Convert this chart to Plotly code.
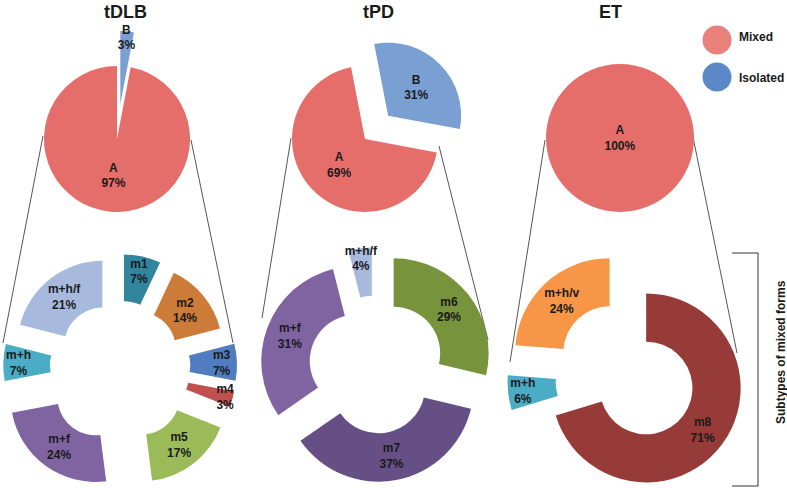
import math
import plotly.graph_objects as go

W, H = 787, 488

# top pies: mixed (A) vs isolated (B) forms
tdlb_top_labels = ["B", "A"]
tdlb_top_values = [3, 97]
tpd_top_labels = ["B", "A"]
tpd_top_values = [31, 69]
et_top_labels = ["A"]
et_top_values = [100]

# subtypes of mixed forms
tdlb_sub_labels = ["m1", "m2", "m3", "m4", "m5", "m+f", "m+h", "m+h/f"]
tdlb_sub_values = [7, 14, 7, 3, 17, 24, 7, 21]
tpd_sub_labels = ["m6", "m7", "m+f", "m+h/f"]
tpd_sub_values = [29, 37, 31, 4]
et_sub_labels = ["m8", "m+h", "m+h/v"]
et_sub_values = [71, 6, 24]

MIXED = "#e56e6b"
ISOLATED = "#7a9fd3"
SUB_COLORS = {
    "m1": "#31859c", "m2": "#cc7b38", "m3": "#4f7dbf", "m4": "#c0504d",
    "m5": "#9bbb59", "m6": "#77933c", "m7": "#654f85", "m8": "#973b39",
    "m+f": "#8064a2", "m+h": "#4bacc6", "m+h/f": "#a7bade", "m+h/v": "#f79646",
}
TOP_COLORS = {"A": MIXED, "B": ISOLATED}
FONT = "Liberation Sans, Arial, sans-serif"


def clamp(v):
    return min(1.0, max(0.0, v))


def exploded_pie(fig, labels, values, colors, center, radius, pulls, hole=0, rotation=0):
    # one pie trace per slice so each slice can be shifted on its own
    cx, cy = center
    total = sum(values)
    n = len(values)
    start = 0
    for i, v in enumerate(values):
        mid = math.radians(rotation + 360 * (start + v / 2) / total)
        start += v
        px = cx + pulls[i] * radius * math.sin(mid)
        py = cy - pulls[i] * radius * math.cos(mid)
        fig.add_trace(go.Pie(
            labels=labels, values=values, sort=False, direction="clockwise",
            rotation=rotation, hole=hole,
            marker=dict(colors=[colors[i] if j == i else "rgba(0,0,0,0)" for j in range(n)],
                        line=dict(width=0)),
            text=[f"{labels[i]}<br>{v}%" if j == i else "" for j in range(n)],
            textinfo="text",
            textposition=["inside" if j == i else "none" for j in range(n)],
            insidetextorientation="horizontal",
            textfont=dict(size=12, color="#1a1a1a", family=FONT, weight="bold"),
            domain=dict(x=[clamp((px - radius) / W), clamp((px + radius) / W)],
                        y=[clamp(1 - (py + radius) / H), clamp(1 - (py - radius) / H)]),
            hoverinfo="skip", showlegend=False,
        ))


fig = go.Figure()

# top row
exploded_pie(fig, tdlb_top_labels, tdlb_top_values,
             [TOP_COLORS[l] for l in tdlb_top_labels], (117, 139), 73, [0.48, 0])
exploded_pie(fig, tpd_top_labels, tpd_top_values,
             [TOP_COLORS[l] for l in tpd_top_labels], (365, 139), 73, [0.45, 0], rotation=-11)
exploded_pie(fig, et_top_labels, et_top_values,
             [TOP_COLORS[l] for l in et_top_labels], (620, 138), 74, [0])

# bottom row (donuts)
exploded_pie(fig, tdlb_sub_labels, tdlb_sub_values,
             [SUB_COLORS[l] for l in tdlb_sub_labels], (118, 366), 85,
             [0.32, 0.3, 0.4, 0.4, 0.45, 0.45, 0.35, 0.3], hole=0.45)
exploded_pie(fig, tpd_sub_labels, tpd_sub_values,
             [SUB_COLORS[l] for l in tpd_sub_labels], (375, 368), 95,
             [0.25, 0.2, 0.21, 0.27], hole=0.49)
exploded_pie(fig, et_sub_labels, et_sub_values,
             [SUB_COLORS[l] for l in et_sub_labels], (634, 379), 94.5,
             [0.16, 0.34, 0.38], hole=0.49)


def pxx(x):
    return x / W


def pxy(y):
    return 1 - y / H


shapes = []
# connector lines from top pies to subtype donuts
connectors = [
    ((43, 136), (3, 343)), ((191, 140), (233, 343)),
    ((291, 138), (262, 318)), ((439, 146), (488, 340)),
    ((545, 140), (510, 362)), ((693, 137), (737, 353)),
]
for (x0, y0), (x1, y1) in connectors:
    shapes.append(dict(type="line", xref="paper", yref="paper",
                       x0=pxx(x0), y0=pxy(y0), x1=pxx(x1), y1=pxy(y1),
                       line=dict(color="#555555", width=1), layer="below"))

# bracket
for (x0, y0), (x1, y1) in [((732, 253), (758, 253)), ((758, 253), (758, 486)),
                           ((732, 486), (758, 486))]:
    shapes.append(dict(type="line", xref="paper", yref="paper",
                       x0=pxx(x0), y0=pxy(y0), x1=pxx(x1), y1=pxy(y1),
                       line=dict(color="#333333", width=1)))

# legend circles
for (x, y), col in [((717, 40), "#e8807c"), ((717, 77), "#5b89c7")]:
    shapes.append(dict(type="circle", xref="paper", yref="paper",
                       x0=pxx(x - 14.5), x1=pxx(x + 14.5), y0=pxy(y + 14.5), y1=pxy(y - 14.5),
                       fillcolor=col, line=dict(width=0)))

annotations = []
for txt, x in [("tDLB", 125), ("tPD", 378), ("ET", 610)]:
    annotations.append(dict(text=f"<b>{txt}</b>", x=pxx(x), y=pxy(12), xref="paper", yref="paper",
                            xanchor="center", yanchor="middle", showarrow=False,
                            font=dict(size=18, color="#1a1a1a", family=FONT)))
for txt, y in [("Mixed", 37), ("Isolated", 78)]:
    annotations.append(dict(text=f"<b>{txt}</b>", x=pxx(737), y=pxy(y), xref="paper", yref="paper",
                            xanchor="left", yanchor="middle", showarrow=False,
                            font=dict(size=12, color="#1a1a1a", family=FONT)))
annotations.append(dict(text="<b>Subtypes of mixed forms</b>", x=pxx(781), y=pxy(352),
                        xref="paper", yref="paper", xanchor="center", yanchor="middle",
                        textangle=-90, showarrow=False,
                        font=dict(size=12, color="#1a1a1a", family=FONT)))

fig.update_layout(
    width=W, height=H,
    margin=dict(l=0, r=0, t=0, b=0),
    paper_bgcolor="white", plot_bgcolor="white",
    showlegend=False,
    uniformtext=dict(minsize=12, mode="show"),
    shapes=shapes, annotations=annotations,
)

fig.write_html("out.html", config={"displayModeBar": False},
               post_script="document.body.style.margin = '0px';")
